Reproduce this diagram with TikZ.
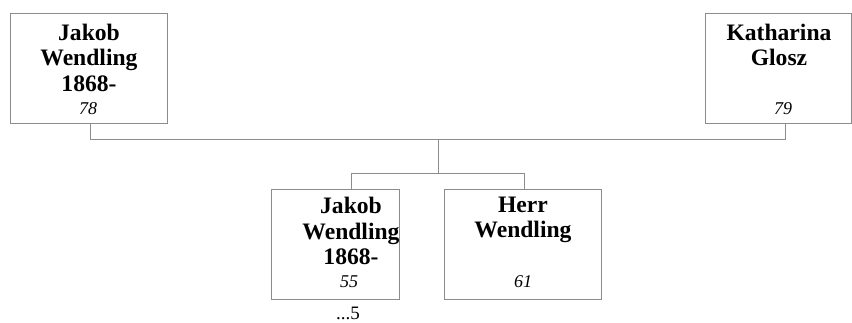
\documentclass[tikz,border=0pt]{standalone}
\usepackage{fontspec}
\setmainfont{Liberation Serif}
\definecolor{boxgray}{gray}{0.55}
\begin{document}
\begin{tikzpicture}[x=1pt,y=-1pt,
  box/.style={draw=boxgray, line width=1pt, inner sep=0pt, anchor=north west, fill=white},
  conn/.style={draw=boxgray, line width=1pt},
  nm/.style={font=\fontsize{23.6}{25.5}\selectfont\bfseries, align=center, inner sep=0pt},
  num/.style={font=\fontsize{18}{20}\selectfont\itshape, inner sep=0pt},
  note/.style={font=\fontsize{19}{21}\selectfont, inner sep=0pt}]
\useasboundingbox (0,0) rectangle (852,322);
% boxes
\node[box, minimum width=157pt, minimum height=110pt] (b1) at (10,13) {};
\node[box, minimum width=146pt, minimum height=110pt] (b2) at (705,13) {};
\node[box, minimum width=128pt, minimum height=110pt] (k1) at (271,189) {};
\node[box, minimum width=157pt, minimum height=110pt] (k2) at (444,189) {};
% connectors
\coordinate (p1) at (90,139);
\coordinate (p2) at (785,139);
\coordinate (m1) at (438,139);
\coordinate (m2) at (438,173);
\coordinate (c1) at (351,173);
\coordinate (c2) at (524,173);
\draw[conn] (b1.south -| p1) -- (p1) -- (p2) -- (b2.south -| p2);
\draw[conn] (m1) -- (m2);
\draw[conn] (k1.north -| c1) -- (c1) -- (c2) -- (k2.north -| c2);
% texts
\node[nm] (t1) at (89,57.5) {Jakob\\Wendling\\1868-};
\node[num] (n1) at (88,109) {78};
\node[nm] (t2) at (779,45) {Katharina\\Glosz};
\node[num] (n2) at (783,109) {79};
\node[nm] (t3) at (351,231) {Jakob\\Wendling\\1868-};
\node[num] (n3) at (349,282) {55};
\node[nm] (t4) at (523,220) {Herr\\Wendling};
\node[num] (n4) at (523,282) {61};
\node[note] (x3) at (348,313) {...5};
\end{tikzpicture}
\end{document}
